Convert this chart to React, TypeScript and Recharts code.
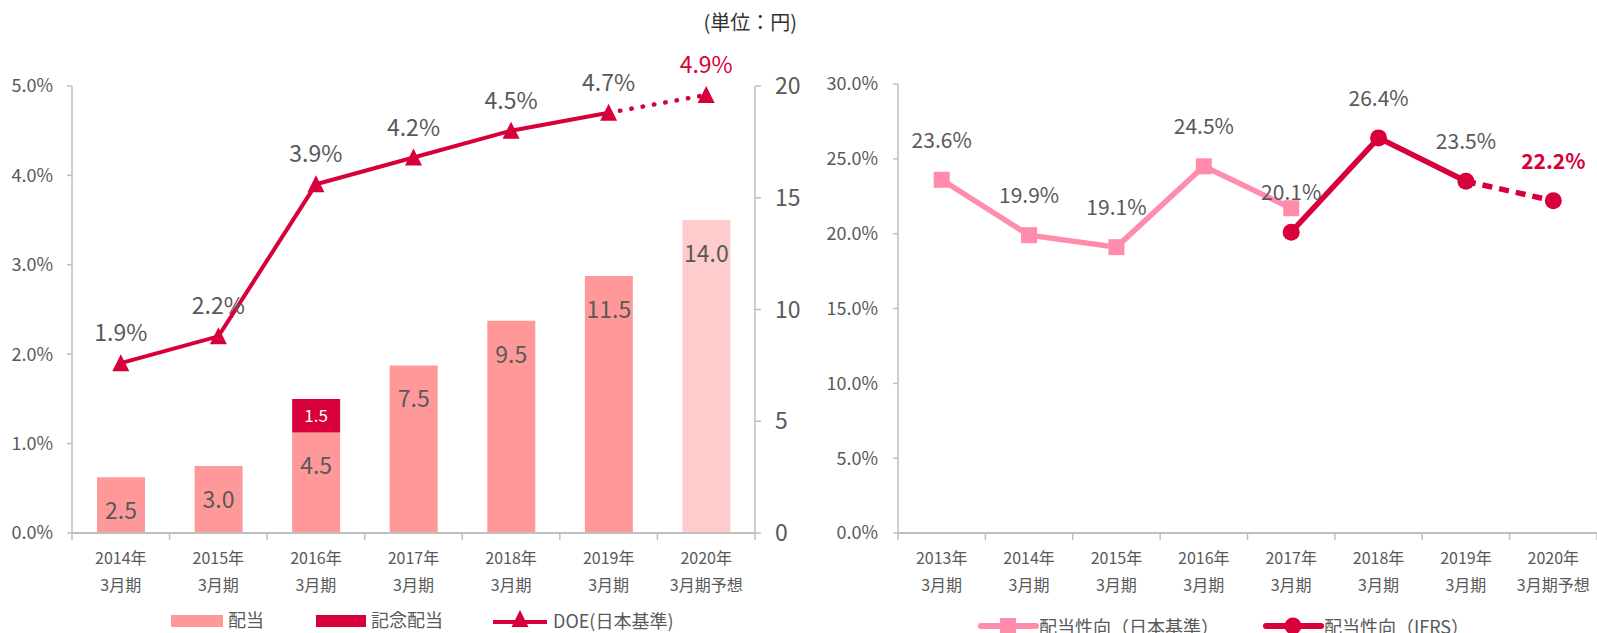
import React from 'react';
import { ComposedChart, Bar, Line, XAxis, YAxis, Cell, LabelList } from 'recharts';

// ---------- data ----------
const leftYears = ['2014年', '2015年', '2016年', '2017年', '2018年', '2019年', '2020年'];
const leftPeriods = ['3月期', '3月期', '3月期', '3月期', '3月期', '3月期', '3月期予想'];
const dividend = [2.5, 3.0, 4.5, 7.5, 9.5, 11.5, 14.0];
const commemorative = [null, null, 1.5, null, null, null, null];
const doeActual = [1.9, 2.2, 3.9, 4.2, 4.5, 4.7, null];
const doeForecast = [null, null, null, null, null, 4.7, 4.9];
const forecastFlags = [false, false, false, false, false, false, true];

const rightYears = ['2013年', '2014年', '2015年', '2016年', '2017年', '2018年', '2019年', '2020年'];
const rightPeriods = ['3月期', '3月期', '3月期', '3月期', '3月期', '3月期', '3月期', '3月期予想'];
const payoutJgaap = [23.6, 19.9, 19.1, 24.5, 21.7, null, null, null];
const payoutJgaapLabels = ['23.6%', '19.9%', '19.1%', '24.5%', null, null, null, null];
const payoutIfrs = [null, null, null, null, 20.1, 26.4, 23.5, null];
const payoutIfrsForecast = [null, null, null, null, null, null, 23.5, 22.2];

const leftTicksPct = [0, 1, 2, 3, 4, 5];
const leftTicksYen = [0, 5, 10, 15, 20];
const rightTicksPct = [0, 5, 10, 15, 20, 25, 30];

const leftData = leftYears.map((year, i) => ({
  year,
  dividend: dividend[i],
  commemorative: commemorative[i],
  doeActual: doeActual[i],
  doeForecast: doeForecast[i],
  forecast: forecastFlags[i],
}));

const rightData = rightYears.map((year, i) => ({
  year,
  jgaap: payoutJgaap[i],
  jgaapLabel: payoutJgaapLabels[i],
  ifrs: payoutIfrs[i],
  ifrsForecast: payoutIfrsForecast[i],
}));

// ---------- styles ----------
const FONT = "'Noto Sans CJK JP', 'Noto Sans', sans-serif";
const TEXT = '#595959';
const AXIS = '#BFBFBF';
const BAR = '#FF9999';
const BAR_LIGHT = '#FFCCCC';
const CRIMSON = '#D7003A';
const PINK = '#FF8CAA';

const LEFT_W = 800;
const RIGHT_W = 797;
const H = 633;

const LEFT_PLOT_W = 755 - 72;
const RIGHT_PLOT_W = 1597 - 898;

const makeXTick = (periods: string[], bw: number, count: number) => (props: any) => {
  const { x, y, payload } = props;
  const i = payload.index;
  return (
    <g>
      <line x1={x - bw / 2} x2={x - bw / 2} y1={y} y2={y + 7} stroke={AXIS} strokeWidth={1.5} />
      {i === count - 1 && (
        <line x1={x + bw / 2} x2={x + bw / 2} y1={y} y2={y + 7} stroke={AXIS} strokeWidth={1.5} />
      )}
      <text x={x} y={y + 31} textAnchor="middle" fontSize={16} fill={TEXT} fontFamily={FONT}>
        {payload.value}
      </text>
      <text x={x} y={y + 58} textAnchor="middle" fontSize={16} fill={TEXT} fontFamily={FONT}>
        {periods[i]}
      </text>
    </g>
  );
};

const Triangle = (props: any) => {
  const { cx, cy, value } = props;
  if (value == null || cx == null || cy == null) return null;
  return <polygon points={`${cx},${cy - 9} ${cx + 8.5},${cy + 8} ${cx - 8.5},${cy + 8}`} fill={CRIMSON} />;
};

const Square = (props: any) => {
  const { cx, cy, value } = props;
  if (value == null || cx == null || cy == null) return null;
  return <rect x={cx - 8} y={cy - 8} width={16} height={16} fill={PINK} />;
};

const Circle = (props: any) => {
  const { cx, cy, value } = props;
  if (value == null || cx == null || cy == null) return null;
  return <circle cx={cx} cy={cy} r={8.5} fill={CRIMSON} />;
};

const barLabel = (props: any) => {
  const { x, y, width, value } = props;
  if (value == null) return null;
  return (
    <text x={x + width / 2} y={y + 42} textAnchor="middle" fontSize={23} fill={TEXT} fontFamily={FONT}>
      {Number(value).toFixed(1)}
    </text>
  );
};

const commemorativeLabel = (props: any) => {
  const { x, y, width, height, value } = props;
  if (value == null) return null;
  return (
    <text x={x + width / 2} y={y + height / 2 + 6} textAnchor="middle" fontSize={17} fill="#FFFFFF" fontFamily={FONT}>
      {Number(value).toFixed(1)}
    </text>
  );
};

const doeLabel = (color: string) => (props: any) => {
  const { x, y, value } = props;
  if (value == null) return null;
  return (
    <text x={x} y={y - 22} textAnchor="middle" fontSize={23} fill={color} fontFamily={FONT}>
      {Number(value).toFixed(1)}%
    </text>
  );
};

const pctLabel = (color: string, bold: boolean, text?: (i: number) => string | null) => (props: any) => {
  const { x, y, value, index } = props;
  if (value == null) return null;
  const t = text ? text(index) : `${Number(value).toFixed(1)}%`;
  if (!t) return null;
  return (
    <text x={x} y={y - 32} textAnchor="middle" fontSize={21} fill={color} fontWeight={bold ? 700 : 400} fontFamily={FONT}>
      {t}
    </text>
  );
};

const tickStyle = { fontSize: 18, fill: TEXT, fontFamily: FONT };

export default function App() {
  return (
    <div style={{ position: 'absolute', left: 0, top: 0, width: 1597, height: H, background: '#fff', fontFamily: FONT }}>
      <div style={{ position: 'absolute', left: 0, top: 0 }}>
        <ComposedChart width={LEFT_W} height={H} data={leftData} margin={{ top: 86, right: 0, bottom: 0, left: 0 }} barCategoryGap="25%">
          <XAxis
            dataKey="year"
            height={100}
            tickSize={0}
            tickMargin={0}
            tickLine={false}
            axisLine={{ stroke: AXIS, strokeWidth: 2 }}
            tick={makeXTick(leftPeriods, LEFT_PLOT_W / leftYears.length, leftYears.length)}
            interval={0}
          />
          <YAxis
            yAxisId="pct"
            orientation="left"
            width={72}
            domain={[0, 5]}
            ticks={leftTicksPct}
            tickFormatter={(v: number) => `${v.toFixed(1)}%`}
            tick={tickStyle}
            tickSize={5}
            tickMargin={14}
            tickLine={{ stroke: AXIS, strokeWidth: 1.5 }}
            axisLine={{ stroke: AXIS, strokeWidth: 1.5 }}
          />
          <YAxis
            yAxisId="yen"
            orientation="right"
            width={45}
            domain={[0, 20]}
            ticks={leftTicksYen}
            tick={{ ...tickStyle, fontSize: 23 }}
            tickSize={6}
            tickMargin={14}
            tickLine={{ stroke: AXIS, strokeWidth: 1.5 }}
            axisLine={{ stroke: AXIS, strokeWidth: 1.5 }}
          />
          <Bar yAxisId="yen" dataKey="dividend" stackId="a" barSize={48} isAnimationActive={false}>
            {leftData.map((d, i) => (
              <Cell key={i} fill={d.forecast ? BAR_LIGHT : BAR} />
            ))}
            <LabelList dataKey="dividend" content={barLabel} />
          </Bar>
          <Bar yAxisId="yen" dataKey="commemorative" stackId="a" barSize={48} fill={CRIMSON} isAnimationActive={false}>
            <LabelList dataKey="commemorative" content={commemorativeLabel} />
          </Bar>
          <Line
            yAxisId="pct"
            dataKey="doeForecast"
            stroke={CRIMSON}
            strokeWidth={4.5}
            strokeDasharray="0.5 11"
            strokeLinecap="round"
            dot={(p: any) => (p.index === 6 ? <Triangle key={p.index} {...p} /> : <g key={p.index} />)}
            activeDot={false}
            isAnimationActive={false}
            connectNulls={false}
          >
            <LabelList dataKey="doeForecast" content={(p: any) => (p.index === 6 ? doeLabel(CRIMSON)(p) : null)} />
          </Line>
          <Line
            yAxisId="pct"
            dataKey="doeActual"
            stroke={CRIMSON}
            strokeWidth={4}
            dot={(p: any) => <Triangle key={p.index} {...p} />}
            activeDot={false}
            isAnimationActive={false}
          >
            <LabelList dataKey="doeActual" content={doeLabel(TEXT)} />
          </Line>
        </ComposedChart>
      </div>

      <div style={{ position: 'absolute', left: 800, top: 0 }}>
        <ComposedChart width={RIGHT_W} height={H} data={rightData} margin={{ top: 84, right: 0, bottom: 0, left: 0 }}>
          <XAxis
            dataKey="year"
            scale="band"
            height={100}
            tickSize={0}
            tickMargin={0}
            tickLine={false}
            axisLine={{ stroke: AXIS, strokeWidth: 2 }}
            tick={makeXTick(rightPeriods, RIGHT_PLOT_W / rightYears.length, rightYears.length)}
            interval={0}
          />
          <YAxis
            orientation="left"
            width={98}
            domain={[0, 30]}
            ticks={rightTicksPct}
            tickFormatter={(v: number) => `${v.toFixed(1)}%`}
            tick={tickStyle}
            tickSize={5}
            tickMargin={15}
            tickLine={{ stroke: AXIS, strokeWidth: 1.5 }}
            axisLine={{ stroke: AXIS, strokeWidth: 1.5 }}
          />
          <Line
            dataKey="jgaap"
            stroke={PINK}
            strokeWidth={5.5}
            dot={(p: any) => <Square key={p.index} {...p} />}
            activeDot={false}
            isAnimationActive={false}
          >
            <LabelList dataKey="jgaap" content={pctLabel(TEXT, false, (i) => payoutJgaapLabels[i])} />
          </Line>
          <Line
            dataKey="ifrsForecast"
            stroke={CRIMSON}
            strokeWidth={5.5}
            strokeDasharray="10 7"
            dot={(p: any) => (p.index === 7 ? <Circle key={p.index} {...p} /> : <g key={p.index} />)}
            activeDot={false}
            isAnimationActive={false}
          >
            <LabelList dataKey="ifrsForecast" content={(p: any) => (p.index === 7 ? pctLabel(CRIMSON, true)(p) : null)} />
          </Line>
          <Line
            dataKey="ifrs"
            stroke={CRIMSON}
            strokeWidth={5.5}
            dot={(p: any) => <Circle key={p.index} {...p} />}
            activeDot={false}
            isAnimationActive={false}
          >
            <LabelList dataKey="ifrs" content={pctLabel(TEXT, false)} />
          </Line>
        </ComposedChart>
      </div>

      <svg width={1597} height={H} style={{ position: 'absolute', left: 0, top: 0, pointerEvents: 'none' }}>
        <text x={797} y={30} textAnchor="end" fontSize={20} fill="#333333" fontFamily={FONT}>(単位：円)</text>

        <rect x={171} y={615} width={52} height={12} fill={BAR} />
        <text x={228} y={627} fontSize={18} fill={TEXT} fontFamily={FONT}>配当</text>
        <rect x={316} y={615} width={50} height={12} fill={CRIMSON} />
        <text x={371} y={627} fontSize={18} fill={TEXT} fontFamily={FONT}>記念配当</text>
        <line x1={493} x2={547} y1={622} y2={622} stroke={CRIMSON} strokeWidth={4} />
        <polygon points="520,610 528.5,627 511.5,627" fill={CRIMSON} />
        <text x={553} y={628} fontSize={18} fill={TEXT} fontFamily={FONT}>DOE(日本基準)</text>

        <line x1={981} x2={1036} y1={626} y2={626} stroke={PINK} strokeWidth={6} strokeLinecap="round" />
        <rect x={1000} y={618} width={16} height={16} fill={PINK} />
        <text x={1039} y={634} fontSize={18} fill={TEXT} fontFamily={FONT}>配当性向（日本基準）</text>
        <line x1={1266} x2={1321} y1={626} y2={626} stroke={CRIMSON} strokeWidth={6} strokeLinecap="round" />
        <circle cx={1293} cy={626} r={8.5} fill={CRIMSON} />
        <text x={1324} y={634} fontSize={18} fill={TEXT} fontFamily={FONT}>配当性向（IFRS）</text>
      </svg>
    </div>
  );
}
